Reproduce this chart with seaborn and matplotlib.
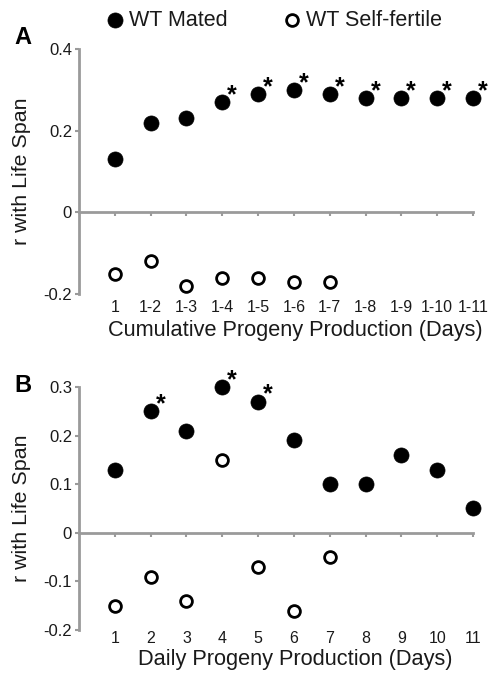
import numpy as np
import pandas as pd
import matplotlib
matplotlib.use("Agg")
import matplotlib.pyplot as plt
import seaborn as sns

# ---- data ----
cum_labels = ["1", "1-2", "1-3", "1-4", "1-5", "1-6", "1-7", "1-8", "1-9", "1-10", "1-11"]
cum_mated = [0.13, 0.22, 0.23, 0.27, 0.29, 0.30, 0.29, 0.28, 0.28, 0.28, 0.28]
cum_self = [-0.15, -0.12, -0.18, -0.16, -0.16, -0.17, -0.17]
cum_sig = [False, False, False, True, True, True, True, True, True, True, True]

daily_labels = ["1", "2", "3", "4", "5", "6", "7", "8", "9", "10", "11"]
daily_mated = [0.13, 0.25, 0.21, 0.30, 0.27, 0.19, 0.10, 0.10, 0.16, 0.13, 0.05]
daily_self = [-0.15, -0.09, -0.14, 0.15, -0.07, -0.16, -0.05]
daily_sig = [False, True, False, True, True, False, False, False, False, False, False]

sns.set_theme(style="white")
plt.rcParams['font.family'] = ['Liberation Sans', 'DejaVu Sans']

W, H = 489, 673
fig = plt.figure(figsize=(W / 100, H / 100), dpi=100)
GRAY = "#9a9a9a"
TXT = "#1a1a1a"

def make_ax(left, top, right, bottom):
    return fig.add_axes([left / W, 1 - bottom / H, (right - left) / W, (bottom - top) / H])

axA = make_ax(79, 49, 473, 294)
axB = make_ax(79, 387, 473, 630)

def draw(ax, labels, mated, self_, sig, ylim, yticks, xlabel, tickpad, labpad):
    pos = np.arange(1, len(labels) + 1)
    dm = pd.DataFrame({"x": pos, "r": mated})
    ds = pd.DataFrame({"x": pos[:len(self_)], "r": self_})
    sns.scatterplot(data=dm, x="x", y="r", ax=ax, color="black", edgecolor="black",
                    s=118, linewidth=0.5, label="WT Mated", legend=False, zorder=4, clip_on=False)
    sns.scatterplot(data=ds, x="x", y="r", ax=ax, facecolor="white", edgecolor="black",
                    s=72, linewidth=2.0, label="WT Self-fertile", legend=False, zorder=4, clip_on=False)
    for xi, yi, s in zip(pos, mated, sig):
        if s:
            ax.annotate("*", (xi, yi), xytext=(3.5, 0), textcoords="offset points",
                        fontsize=18, fontweight="bold", ha="left", va="baseline", color="black")
    ax.set_xlim(0, len(labels))
    ax.set_ylim(*ylim)
    ax.set_yticks(yticks)
    ax.set_yticklabels([("%g" % v) for v in yticks])
    ax.set_xticks(pos)
    ax.set_xticklabels(labels)
    ax.tick_params(axis="x", length=0, pad=tickpad, labelsize=11.5, colors=TXT)
    ax.tick_params(axis="y", length=3, width=1.5, color=GRAY, pad=2, labelsize=12, labelcolor=TXT, left=True)
    for sp in ["top", "right", "bottom"]:
        ax.spines[sp].set_visible(False)
    ax.spines["left"].set_color(GRAY)
    ax.spines["left"].set_linewidth(2)
    frac = (0 - ylim[0]) / (ylim[1] - ylim[0])
    sec = ax.secondary_xaxis(frac)
    sec.set_xticks(pos)
    sec.tick_params(axis="x", length=3, width=1.5, color=GRAY, labelbottom=False, labeltop=False,
                    direction="out", bottom=True, top=False)
    sec.spines["bottom"].set_color(GRAY)
    sec.spines["bottom"].set_linewidth(2)
    sec.spines["top"].set_visible(False)
    sec.xaxis.set_ticks_position("bottom")
    sec.set_xticklabels([])
    ax.set_xlabel(xlabel, fontsize=15.7, labelpad=labpad, color=TXT, x=(295 - 79) / 394)
    ax.set_ylabel("r with Life Span", fontsize=15.4, labelpad=9, color=TXT)

draw(axA, cum_labels, cum_mated, cum_self, cum_sig, (-0.2, 0.4), [-0.2, 0, 0.2, 0.4],
     "Cumulative Progeny Production (Days)", 4, 4)
draw(axB, daily_labels, daily_mated, daily_self, daily_sig, (-0.2, 0.3), [-0.2, -0.1, 0, 0.1, 0.2, 0.3],
     "Daily Progeny Production (Days)", 1, 2)

fig.text(14 / W, 1 - 37 / H, "A", fontsize=17, fontweight="bold", ha="left", va="center", color="black")
fig.text(14 / W, 1 - 385 / H, "B", fontsize=17, fontweight="bold", ha="left", va="center", color="black")

handles, lbls = axA.get_legend_handles_labels()
leg = fig.legend(handles, lbls, loc="center left", bbox_to_anchor=(106 / W, 1 - 20 / H), ncol=2,
                 frameon=False, fontsize=15.5, handletextpad=0.25, handlelength=0.8, columnspacing=2.6,
                 markerscale=1.0, borderaxespad=0, borderpad=0)
for t in leg.get_texts():
    t.set_color(TXT)

fig.savefig("out.png", dpi=100)
